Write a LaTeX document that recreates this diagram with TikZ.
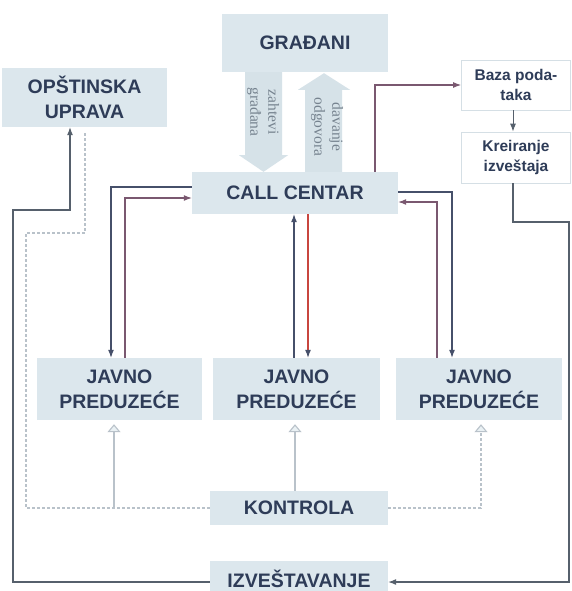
\documentclass[tikz,border=0pt]{standalone}
\usepackage{fontspec}
\setmainfont{Liberation Sans}
\newfontfamily\lblfont{Liberation Serif}
\usetikzlibrary{calc,arrows.meta}
\definecolor{boxfill}{HTML}{DCE7ED}
\definecolor{arrfill}{HTML}{D6E2E8}
\definecolor{txt}{HTML}{2E3C58}
\definecolor{cdark}{HTML}{46506A}
\definecolor{cmauve}{HTML}{7A5870}
\definecolor{cred}{HTML}{C8463F}
\definecolor{clight}{HTML}{B9C2CA}
\definecolor{cgrey}{HTML}{56606C}
\definecolor{lbl}{HTML}{76838F}
\definecolor{wborder}{HTML}{D5DFE5}
\begin{document}
\begin{tikzpicture}[x=1pt,y=-1pt,
  bigbox/.style={fill=boxfill,draw=none,text=txt,align=center,inner sep=0pt,
    font=\fontsize{19.5}{25}\selectfont\bfseries},
  smallbox/.style={fill=white,draw=wborder,line width=0.8pt,text=txt,align=center,inner sep=0pt,
    font=\fontsize{15.5}{20}\selectfont\bfseries},
  conn/.style={line width=1.1pt,-{Latex[length=8pt,width=6pt]}},
  lightconn/.style={line width=1.1pt,draw=clight},
  lightarr/.style={lightconn,-{Triangle[open,length=8pt,width=13pt,fill=boxfill!60]}},
  arrlabel/.style={text=lbl,align=center,rotate=-90,inner sep=0pt,
    font=\lblfont\fontsize{15.5}{18}\selectfont}
]
\useasboundingbox (0,0) rectangle (572,591);
\fill[white] (0,0) rectangle (572,591);

% nodes
\node[bigbox,minimum width=166pt,minimum height=58pt] (gr) at (305,43) {GRA\DJ ANI};
\node[bigbox,minimum width=165pt,minimum height=59pt] (ou) at (84.5,97.5) {OP\v STINSKA\\UPRAVA};
\node[bigbox,minimum width=206pt,minimum height=42pt] (cc) at (295,193) {CALL CENTAR};
\node[smallbox,minimum width=109pt,minimum height=50pt] (baza) at (516,85) {Baza poda-\\taka};
\node[smallbox,minimum width=109pt,minimum height=51pt] (kre) at (516,157.5) {Kreiranje\\izve\v staja};
\node[bigbox,minimum width=165pt,minimum height=62pt] (jp1) at (119.5,389) {JAVNO\\PREDUZE\'CE};
\node[bigbox,minimum width=167pt,minimum height=62pt] (jp2) at (296.5,389) {JAVNO\\PREDUZE\'CE};
\node[bigbox,minimum width=166pt,minimum height=62pt] (jp3) at (479,389) {JAVNO\\PREDUZE\'CE};
\node[bigbox,minimum width=178pt,minimum height=34pt] (kon) at (299,508) {KONTROLA};
\node[bigbox,minimum width=178pt,minimum height=36pt] (izv) at (299,579) {IZVE\v STAVANJE};

% thick arrows between GRADJANI and CALL CENTAR
\fill[arrfill] ($(gr.south)+(-60,0)$) -- ($(gr.south)+(-23,0)$) -- ($(gr.south)+(-23,83)$)
  -- ($(gr.south)+(-17,83)$) -- ($(cc.north)+(-31.5,0)$) -- ($(gr.south)+(-66,83)$)
  -- ($(gr.south)+(-60,83)$) -- cycle;
\fill[arrfill] ($(cc.north)+(10,0)$) -- ($(cc.north)+(10,-82)$) -- ($(cc.north)+(3,-82)$)
  -- ($(gr.south)+(19,1)$) -- ($(cc.north)+(55,-82)$) -- ($(cc.north)+(47,-82)$)
  -- ($(cc.north)+(47,0)$) -- cycle;
\node[arrlabel] (lz) at (263,112) {zahtevi\\gra\dj ana};
\node[arrlabel] (ld) at (327,127) {davanje\\odgovora};

% CALL CENTAR <-> left JP
\draw[conn,cdark] ([yshift=6pt]cc.west) -| ([xshift=-8.5pt]jp1.north);
\draw[conn,cmauve] ([xshift=5.5pt]jp1.north) |- ([yshift=-5pt]cc.west);
% middle
\draw[conn,cdark] ([xshift=-2.5pt]jp2.north) -- ([xshift=-2.5pt]jp2.north |- cc.south);
\draw[conn,cred,-{Latex[length=8pt,width=6pt,color=cdark]}] ([xshift=11.5pt]jp2.north |- cc.south) -- ([xshift=11.5pt]jp2.north);
% right
\draw[conn,cdark] ([yshift=1pt]cc.east) -| ([xshift=-27pt]jp3.north);
\draw[conn,cmauve] ([xshift=-42pt]jp3.north) |- ([yshift=-9pt]cc.east);
% CC -> Baza -> Kreiranje
\draw[conn,cmauve] ([xshift=80pt]cc.north) |- (baza.west);
\draw[conn,cgrey,line width=0.9pt] ([xshift=-3pt]baza.south) -- ([xshift=-3pt]kre.north);
% Kreiranje -> IZVESTAVANJE
\coordinate (kr1) at (569,222);
\draw[conn,cgrey] ([xshift=-3pt]kre.south) |- (kr1) |- ([yshift=-3pt]izv.east);
% IZVESTAVANJE -> OPSTINSKA UPRAVA
\coordinate (il) at (13,210);
\draw[conn,cgrey] ([yshift=-3pt]izv.west) -| (il) -| ([xshift=-14.5pt]ou.south);
% OPSTINSKA UPRAVA -- KONTROLA
\coordinate (ok1) at (26,233);
\draw[lightconn,densely dashed] ([xshift=0.5pt,yshift=-6pt]ou.south) |- (ok1) |- (kon.west);
% KONTROLA -> JPs
\draw[lightarr,shorten >=4pt] ([xshift=-5.5pt]jp1.south |- kon.west) -- ([xshift=-5.5pt]jp1.south);
\draw[lightarr,shorten >=4pt] ([xshift=-1.5pt]jp2.south |- kon.north) -- ([xshift=-1.5pt]jp2.south);
\draw[lightarr,densely dashed,shorten >=4pt] (kon.east) -| ([xshift=2pt]jp3.south);
\end{tikzpicture}
\end{document}
